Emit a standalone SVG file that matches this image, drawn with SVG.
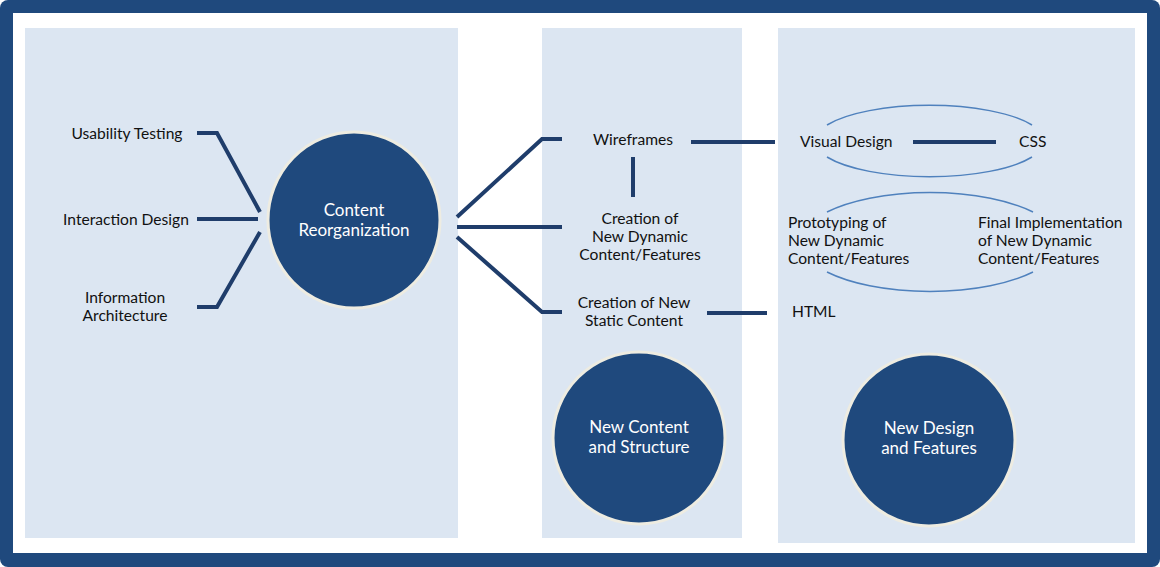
<svg xmlns="http://www.w3.org/2000/svg" width="1160" height="567" viewBox="0 0 1160 567">
<style>
.panel{fill:#DCE6F2}
.lbl{font-family:Lato,"Open Sans",sans-serif;font-size:15.6px;fill:#111}
.ctr{text-anchor:middle}
.circ{fill:#1F497D;stroke:#EEECE1;stroke-width:3}
.ctxt{font-family:Lato,"Open Sans",sans-serif;font-size:17px;fill:#fff;text-anchor:middle}
.conn{fill:none;stroke:#1F3D6B;stroke-width:4}
.ell{fill:none;stroke:#4F81BD;stroke-width:1.5}
</style>
<rect x="0" y="0" width="1160" height="567" rx="8" fill="#1F497D"/>
<rect x="13" y="13" width="1134" height="540" fill="#FFFFFF"/>
<g id="panels">
<rect class="panel" x="25" y="28" width="433" height="510"/>
<rect class="panel" x="542" y="28" width="200" height="510"/>
<rect class="panel" x="778" y="28" width="357" height="515"/>
</g>
<g id="connectors">
<path class="conn" d="M197,133 H217 L260,212"/>
<path class="conn" d="M197,219 H258"/>
<path class="conn" d="M197,307 H217 L260,232"/>
<path class="conn" d="M457,217 L542,139 H562"/>
<path class="conn" d="M457,227 H562"/>
<path class="conn" d="M457,237 L542,312 H562"/>
<path class="conn" d="M633,157 V197"/>
<path class="conn" d="M691,142 H775"/>
<path class="conn" d="M707,313 H767"/>
<path class="conn" d="M913,142 H996"/>
<path class="ell" d="M827,125 A115,36 0 0 1 1032,125"/>
<path class="ell" d="M827,157 A115,36 0 0 0 1032,157"/>
<path class="ell" d="M827,212 A130,50 0 0 1 1033,212"/>
<path class="ell" d="M827,272 A130,50 0 0 0 1033,272"/>
</g>
<g id="usability-testing"><text class="lbl ctr" x="127" y="139">Usability Testing</text></g>
<g id="interaction-design"><text class="lbl ctr" x="126" y="225">Interaction Design</text></g>
<g id="information-architecture"><text class="lbl ctr" x="125" y="303">Information</text><text class="lbl ctr" x="125" y="321">Architecture</text></g>
<g id="content-reorganization">
<ellipse class="circ" cx="354" cy="220" rx="86" ry="88"/>
<text class="ctxt" x="354" y="216">Content</text><text class="ctxt" x="354" y="236">Reorganization</text>
</g>
<g id="wireframes"><text class="lbl ctr" x="633" y="145">Wireframes</text></g>
<g id="creation-dynamic"><text class="lbl ctr" x="640" y="224">Creation of</text><text class="lbl ctr" x="640" y="242">New Dynamic</text><text class="lbl ctr" x="640" y="260">Content/Features</text></g>
<g id="creation-static"><text class="lbl ctr" x="634" y="308">Creation of New</text><text class="lbl ctr" x="634" y="326">Static Content</text></g>
<g id="new-content-structure">
<ellipse class="circ" cx="639" cy="438" rx="86" ry="86"/>
<text class="ctxt" x="639" y="433">New Content</text><text class="ctxt" x="639" y="453">and Structure</text>
</g>
<g id="visual-design"><text class="lbl" x="800" y="147">Visual Design</text></g>
<g id="css"><text class="lbl" x="1019" y="147">CSS</text></g>
<g id="prototyping"><text class="lbl" x="788" y="228">Prototyping of</text><text class="lbl" x="788" y="246">New Dynamic</text><text class="lbl" x="788" y="264">Content/Features</text></g>
<g id="final-implementation"><text class="lbl" x="978" y="228">Final Implementation</text><text class="lbl" x="978" y="246">of New Dynamic</text><text class="lbl" x="978" y="264">Content/Features</text></g>
<g id="html"><text class="lbl" x="792" y="317">HTML</text></g>
<g id="new-design-features">
<ellipse class="circ" cx="929" cy="440" rx="86" ry="86"/>
<text class="ctxt" x="929" y="434">New Design</text><text class="ctxt" x="929" y="454">and Features</text>
</g>
</svg>
